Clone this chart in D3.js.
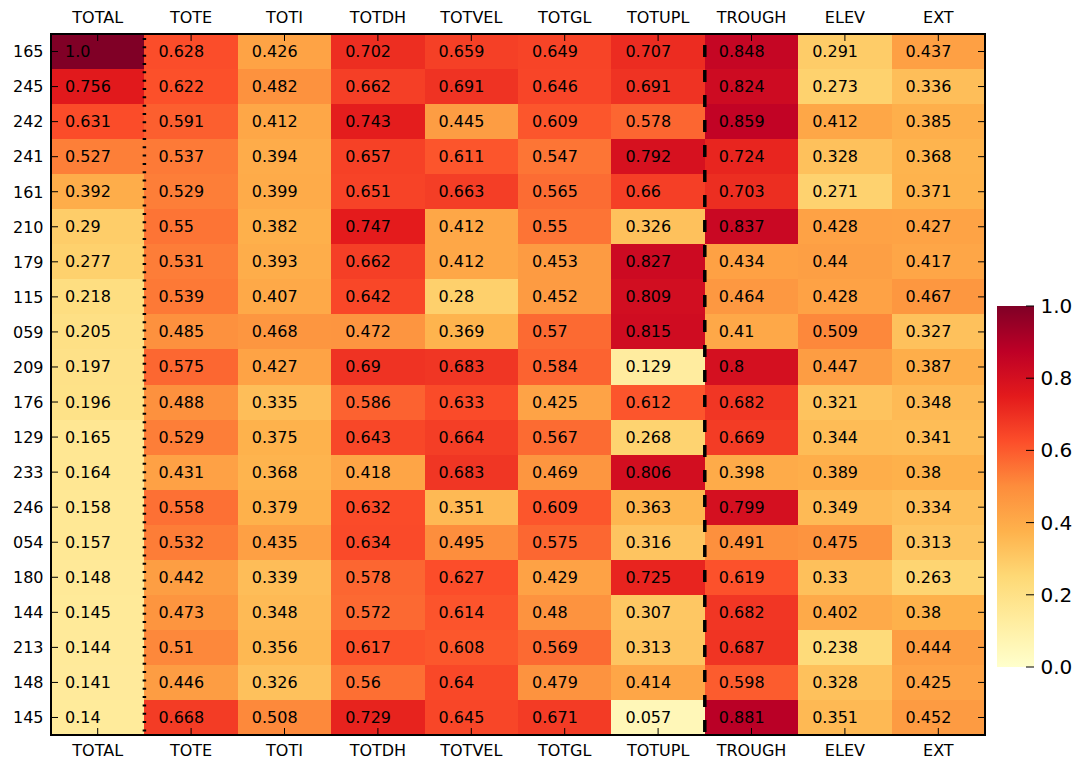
<!DOCTYPE html>
<html>
<head>
<meta charset="utf-8">
<script src="https://cdn.jsdelivr.net/npm/d3@7"></script>
<style>
  body { margin: 0; background: #fff; }
  svg { font-family: "DejaVu Sans", sans-serif; }
</style>
</head>
<body>
<div id="chart"></div>
<script>
// row and column labels
const rows = ['165', '245', '242', '241', '161', '210', '179', '115', '059', '209',
              '176', '129', '233', '246', '054', '180', '144', '213', '148', '145'];
const columns = ['TOTAL', 'TOTE', 'TOTI', 'TOTDH', 'TOTVEL', 'TOTGL', 'TOTUPL', 'TROUGH', 'ELEV', 'EXT'];

// one array per column, in row order
const total  = [1.0, 0.756, 0.631, 0.527, 0.392, 0.29, 0.277, 0.218, 0.205, 0.197, 0.196, 0.165, 0.164, 0.158, 0.157, 0.148, 0.145, 0.144, 0.141, 0.14];
const tote   = [0.628, 0.622, 0.591, 0.537, 0.529, 0.55, 0.531, 0.539, 0.485, 0.575, 0.488, 0.529, 0.431, 0.558, 0.532, 0.442, 0.473, 0.51, 0.446, 0.668];
const toti   = [0.426, 0.482, 0.412, 0.394, 0.399, 0.382, 0.393, 0.407, 0.468, 0.427, 0.335, 0.375, 0.368, 0.379, 0.435, 0.339, 0.348, 0.356, 0.326, 0.508];
const totdh  = [0.702, 0.662, 0.743, 0.657, 0.651, 0.747, 0.662, 0.642, 0.472, 0.69, 0.586, 0.643, 0.418, 0.632, 0.634, 0.578, 0.572, 0.617, 0.56, 0.729];
const totvel = [0.659, 0.691, 0.445, 0.611, 0.663, 0.412, 0.412, 0.28, 0.369, 0.683, 0.633, 0.664, 0.683, 0.351, 0.495, 0.627, 0.614, 0.608, 0.64, 0.645];
const totgl  = [0.649, 0.646, 0.609, 0.547, 0.565, 0.55, 0.453, 0.452, 0.57, 0.584, 0.425, 0.567, 0.469, 0.609, 0.575, 0.429, 0.48, 0.569, 0.479, 0.671];
const totupl = [0.707, 0.691, 0.578, 0.792, 0.66, 0.326, 0.827, 0.809, 0.815, 0.129, 0.612, 0.268, 0.806, 0.363, 0.316, 0.725, 0.307, 0.313, 0.414, 0.057];
const trough = [0.848, 0.824, 0.859, 0.724, 0.703, 0.837, 0.434, 0.464, 0.41, 0.8, 0.682, 0.669, 0.398, 0.799, 0.491, 0.619, 0.682, 0.687, 0.598, 0.881];
const elev   = [0.291, 0.273, 0.412, 0.328, 0.271, 0.428, 0.44, 0.428, 0.509, 0.447, 0.321, 0.344, 0.389, 0.349, 0.475, 0.33, 0.402, 0.238, 0.328, 0.351];
const ext    = [0.437, 0.336, 0.385, 0.368, 0.371, 0.427, 0.417, 0.467, 0.327, 0.387, 0.348, 0.341, 0.38, 0.334, 0.313, 0.263, 0.38, 0.444, 0.425, 0.452];

const colorbarTicks = [0.0, 0.2, 0.4, 0.6, 0.8, 1.0];

const seriesByColumn = [total, tote, toti, totdh, totvel, totgl, totupl, trough, elev, ext];

const cells = [];
rows.forEach((r, i) => {
  columns.forEach((c, j) => {
    cells.push({ row: r, col: c, value: seriesByColumn[j][i] });
  });
});

const width = 1081;
const height = 760;
const margin = { left: 51, top: 34, right: 96, bottom: 25 };

const svg = d3.select('#chart')
  .append('svg')
  .attr('width', width)
  .attr('height', height);

const x = d3.scaleBand()
  .domain(columns)
  .range([margin.left, width - margin.right]);

const y = d3.scaleBand()
  .domain(rows)
  .range([margin.top, height - margin.bottom]);

// matplotlib YlOrRd is a linear ramp through the 9 ColorBrewer colours
const ylOrRd = ['#ffffcc', '#ffeda0', '#fed976', '#feb24c', '#fd8d3c', '#fc4e2a', '#e31a1c', '#bd0026', '#800026'];
const color = d3.scaleLinear()
  .domain(d3.range(ylOrRd.length).map(i => i / (ylOrRd.length - 1)))
  .range(ylOrRd)
  .interpolate(d3.interpolateRgb);

// cells
svg.append('g')
  .selectAll('rect')
  .data(cells)
  .join('rect')
  .attr('x', d => x(d.col))
  .attr('y', d => y(d.row))
  .attr('width', x.bandwidth() + 0.5)
  .attr('height', y.bandwidth() + 0.5)
  .attr('fill', d => color(d.value))
  .attr('shape-rendering', 'crispEdges');

// cell values
svg.append('g')
  .selectAll('text')
  .data(cells)
  .join('text')
  .attr('x', d => x(d.col) + 14)
  .attr('y', d => y(d.row) + y.bandwidth() / 2 + 5.5)
  .attr('font-size', '16px')
  .attr('fill', '#000')
  .text(d => d.value === 1 ? '1.0' : String(d.value));

const x0 = margin.left, x1 = width - margin.right;
const y0 = margin.top, y1 = height - margin.bottom;

// separator after TOTAL (dotted) and after TOTUPL (dashed)
const xDot = x('TOTE');
svg.append('line')
  .attr('x1', xDot).attr('x2', xDot)
  .attr('y1', y0).attr('y2', y1)
  .attr('stroke', '#000')
  .attr('stroke-width', 3.5)
  .attr('stroke-dasharray', '2,6.33')
  .attr('stroke-dashoffset', -4);

const xDash = x('TROUGH');
svg.append('line')
  .attr('x1', xDash).attr('x2', xDash)
  .attr('y1', y0).attr('y2', y1)
  .attr('stroke', '#000')
  .attr('stroke-width', 3.5)
  .attr('stroke-dasharray', '12,13')
  .attr('stroke-dashoffset', 14);

// ticks (inward, all four sides)
const tickLen = 7;
const tickG = svg.append('g').attr('stroke', '#000').attr('stroke-width', 1);
columns.forEach(c => {
  const cx = x(c) + x.bandwidth() / 2;
  tickG.append('line').attr('x1', cx).attr('x2', cx).attr('y1', y0).attr('y2', y0 + tickLen);
  tickG.append('line').attr('x1', cx).attr('x2', cx).attr('y1', y1).attr('y2', y1 - tickLen);
});
rows.forEach(r => {
  const cy = y(r) + y.bandwidth() / 2;
  tickG.append('line').attr('x1', x0).attr('x2', x0 + tickLen).attr('y1', cy).attr('y2', cy);
  tickG.append('line').attr('x1', x1).attr('x2', x1 - tickLen).attr('y1', cy).attr('y2', cy);
});

// frame
svg.append('rect')
  .attr('x', x0).attr('y', y0)
  .attr('width', x1 - x0).attr('height', y1 - y0)
  .attr('fill', 'none')
  .attr('stroke', '#000')
  .attr('stroke-width', 2);

// column labels top and bottom, row labels left
const labelG = svg.append('g').attr('font-size', '16px').attr('fill', '#000');
columns.forEach(c => {
  const cx = x(c) + x.bandwidth() / 2;
  labelG.append('text').attr('x', cx).attr('y', 23).attr('text-anchor', 'middle').text(c);
  labelG.append('text').attr('x', cx).attr('y', 756).attr('text-anchor', 'middle').text(c);
});
rows.forEach(r => {
  labelG.append('text')
    .attr('x', 43.5)
    .attr('y', y(r) + y.bandwidth() / 2 + 5.8)
    .attr('text-anchor', 'end')
    .text(r);
});

// colorbar
const cbX = 997, cbW = 37, cbTop = 306, cbBottom = 667;
const cbScale = d3.scaleLinear().domain([0, 1]).range([cbBottom, cbTop]);

const defs = svg.append('defs');
const grad = defs.append('linearGradient')
  .attr('id', 'cbGrad')
  .attr('x1', 0).attr('y1', 1).attr('x2', 0).attr('y2', 0);
ylOrRd.forEach((col, i) => {
  grad.append('stop')
    .attr('offset', i / (ylOrRd.length - 1))
    .attr('stop-color', col);
});

svg.append('rect')
  .attr('x', cbX).attr('y', cbTop)
  .attr('width', cbW).attr('height', cbBottom - cbTop)
  .attr('fill', 'url(#cbGrad)');

const cbG = svg.append('g');
colorbarTicks.forEach(t => {
  cbG.append('line')
    .attr('x1', cbX + cbW - 8).attr('x2', cbX + cbW)
    .attr('y1', cbScale(t)).attr('y2', cbScale(t))
    .attr('stroke', '#000').attr('stroke-width', 1);
  cbG.append('text')
    .attr('x', 1040.5)
    .attr('y', cbScale(t) + 7)
    .attr('font-size', '20px')
    .attr('fill', '#000')
    .text(t.toFixed(1));
});
</script>
</body>
</html>
